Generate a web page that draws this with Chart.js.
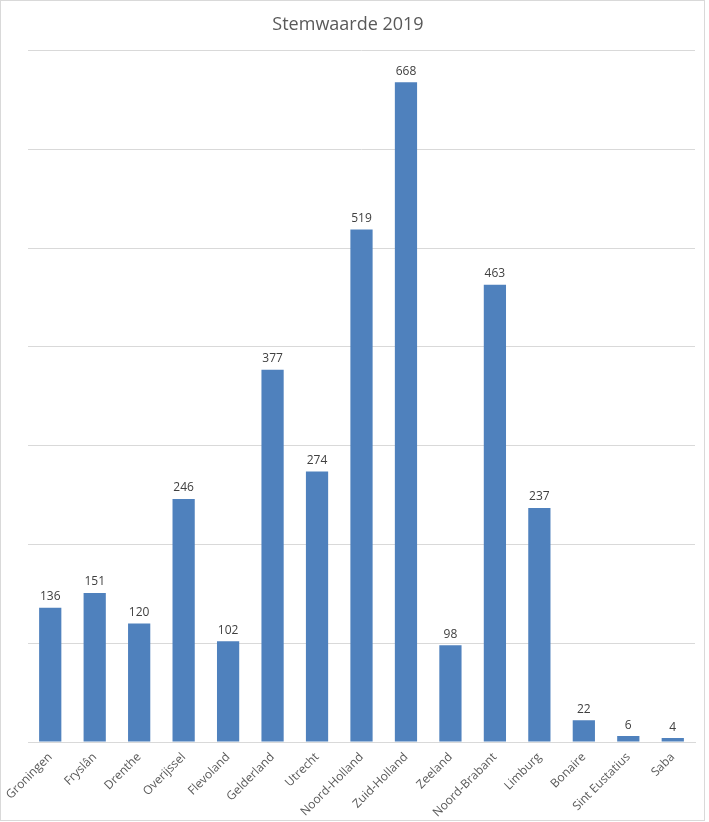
<!DOCTYPE html>
<html>
<head>
<meta charset="utf-8">
<script src="https://cdn.jsdelivr.net/npm/chart.js@4.4.0/dist/chart.umd.min.js"></script>
<style>
	body { margin: 0; background: #fff; }
	#wrap { position: absolute; left: 0; top: 0; width: 703px; height: 819px; border: 1px solid #d9d9d9; }
</style>
</head>
<body>
<div id="wrap"><canvas id="myChart" width="703" height="819"></canvas></div>
<script>
var provincies = ['Groningen', 'Fryslân', 'Drenthe', 'Overijssel', 'Flevoland', 'Gelderland', 'Utrecht',
	'Noord-Holland', 'Zuid-Holland', 'Zeeland', 'Noord-Brabant', 'Limburg', 'Bonaire', 'Sint Eustatius', 'Saba'];
var stemwaarde = [136, 151, 120, 246, 102, 377, 274, 519, 668, 98, 463, 237, 22, 6, 4];
var yTicks = [0, 100, 200, 300, 400, 500, 600, 700];

// labels above each bar
var valueLabels = {
	id: 'valueLabels',
	afterDatasetsDraw: function(chart) {
		var ctx = chart.ctx;
		var meta = chart.getDatasetMeta(0);
		ctx.save();
		ctx.font = '12px "Open Sans", sans-serif';
		ctx.fillStyle = '#404040';
		ctx.textAlign = 'center';
		ctx.textBaseline = 'bottom';
		meta.data.forEach(function(bar, i) {
			ctx.fillText(stemwaarde[i], bar.x, bar.y - 5);
		});
		ctx.restore();
	}
};

var ctx = document.getElementById('myChart').getContext('2d');
var myChart = new Chart(ctx, {
	type: 'bar',
	data: {
		labels: provincies,
		datasets: [{
			label: 'Stemwaarde',
			data: stemwaarde,
			backgroundColor: '#4f81bd',
			barPercentage: 0.5,
			categoryPercentage: 1
		}]
	},
	options: {
		responsive: false,
		animation: false,
		layout: { padding: { left: 0, right: 9, top: 11, bottom: 0 } },
		plugins: {
			legend: { display: false },
			tooltip: { enabled: false },
			title: {
				display: true,
				text: 'Stemwaarde 2019',
				color: '#595959',
				font: { family: '"Open Sans", sans-serif', size: 18, weight: 'normal' },
				padding: { top: 2, bottom: 15 }
			}
		},
		scales: {
			x: {
				grid: { display: false },
				border: { color: '#d9d9d9' },
				ticks: {
					color: '#595959',
					font: { family: '"Open Sans", sans-serif', size: 12 },
					minRotation: 45,
					maxRotation: 45,
					padding: 0
				}
			},
			y: {
				min: 0,
				max: 700,
				afterBuildTicks: function(axis) {
					axis.ticks = yTicks.map(function(v) { return { value: v }; });
				},
				afterFit: function(axis) { axis.width = 27; },
				grid: { color: '#d9d9d9', drawTicks: false },
				border: { display: false },
				ticks: { display: false }
			}
		}
	},
	plugins: [valueLabels]
});
</script>
</body>
</html>
